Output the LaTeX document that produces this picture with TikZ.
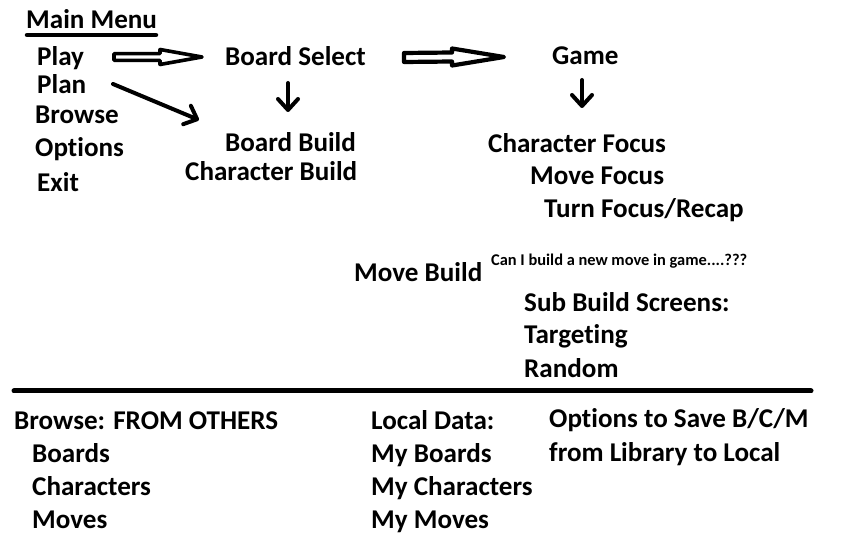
\documentclass[tikz,border=0pt]{standalone}
\usepackage{fontspec}
\setmainfont{Carlito}[RawFeature=-liga]
\usetikzlibrary{arrows.meta,calc}
\begin{document}
\begin{tikzpicture}[x=1pt,y=-1pt,
  lbl/.style={anchor=base west, inner sep=0pt, font=\fontsize{27.1}{30}\selectfont\bfseries},
  small/.style={anchor=base west, inner sep=0pt, font=\fontsize{16.4}{19}\selectfont\bfseries},
  heavy/.style={line width=4pt, line cap=round, line join=round},
  barb/.style={heavy, -{Straight Barb[length=11pt,width=20pt,line cap=round,line join=round]}},
  hollow/.style={line join=round, fill=white}]
\useasboundingbox (0,0) rectangle (844,545);
\fill[white] (0,0) rectangle (844,545);

% top menu
\node[lbl] (mm) at (26,29) {Main Menu};
\node[lbl] (play) at (37,66) {Play};
\node[lbl] (plan) at (37,94) {Plan};
\node[lbl] (browse) at (35,124) {Browse};
\node[lbl] (opts) at (35,157) {Options};
\node[lbl] (exit) at (37,192) {Exit};
\node[lbl] (bsel) at (225,66) {Board Select};
\node[lbl] (game) at (552,65) {Game};
\node[lbl] (bbuild) at (225,152) {Board Build};
\node[lbl] (cbuild) at (185,181) {Character Build};
\node[lbl] (cfocus) at (488,153) {Character Focus};
\node[lbl] (mfocus) at (530,185) {Move Focus};
\node[lbl] (tfocus) at (544,218) {Turn Focus/Recap};
\node[lbl] (mbuild) at (354,282) {Move Build};
\node[small] (q) at (491,265.5) {Can I build a new move in game....???};
\node[lbl] (sub) at (524,312) {Sub Build Screens:};
\node[lbl] (targ) at (524,344) {Targeting};
\node[lbl] (rand) at (524,378) {Random};

% bottom
\node[lbl] (bfo) at (14,429) {Browse: FROM OTHERS};
\node[lbl] (boards) at (32,462) {Boards};
\node[lbl] (chars) at (32,495) {Characters};
\node[lbl] (moves) at (32,528) {Moves};
\node[lbl] (ld) at (371,429) {Local Data:};
\node[lbl] (mb) at (371,462) {My Boards};
\node[lbl] (mc) at (371,495) {My Characters};
\node[lbl] (mmv) at (371,528) {My Moves};
\node[lbl] (save1) at (549,428) {Options to Save B/C/M};
\node[lbl] (save2) at (549,461) {from Library to Local};

% lines
\coordinate (ul1) at (27,35);
\coordinate (ul2) at (156,35);
\draw[line width=4.5pt, line cap=round] (ul1) -- (ul2);
\coordinate (sep1) at (14,391);
\coordinate (sep2) at (811,391);
\draw[line width=5pt, line cap=round] (sep1) -- (sep2);

% hollow arrows
\coordinate (h1s) at (114,57);
\coordinate (h1e) at (202,57);
\draw[hollow, line width=3.6pt] ($(h1s)+(0,-3.4)$) -- ($(h1e)+(-42,-3.4)$) -- ($(h1e)+(-42,-7.5)$) -- (h1e)
  -- ($(h1e)+(-42,7.5)$) -- ($(h1e)+(-42,3.4)$) -- ($(h1s)+(0,3.4)$) -- cycle;
\coordinate (h2s) at (404,57.5);
\coordinate (h2e) at (504,57);
\draw[hollow, line width=4.2pt] ($(h2s)+(0,-4.5)$) -- ($(h2e)+(-52,-4.5)$) -- ($(h2e)+(-52,-8.5)$) -- (h2e)
  -- ($(h2e)+(-52,8.5)$) -- ($(h2e)+(-52,4.5)$) -- ($(h2s)+(0,4.5)$) -- cycle;

% plain arrows
\coordinate (p1) at (113,84);
\coordinate (p2) at (199,120);
\draw[barb] (p1) -- (p2);
\coordinate (d1a) at (288,83);
\coordinate (d1b) at (288,112);
\draw[barb] (d1a) -- (d1b);
\coordinate (d2a) at (582,80);
\coordinate (d2b) at (582,108);
\draw[barb] (d2a) -- (d2b);
\end{tikzpicture}
\end{document}
